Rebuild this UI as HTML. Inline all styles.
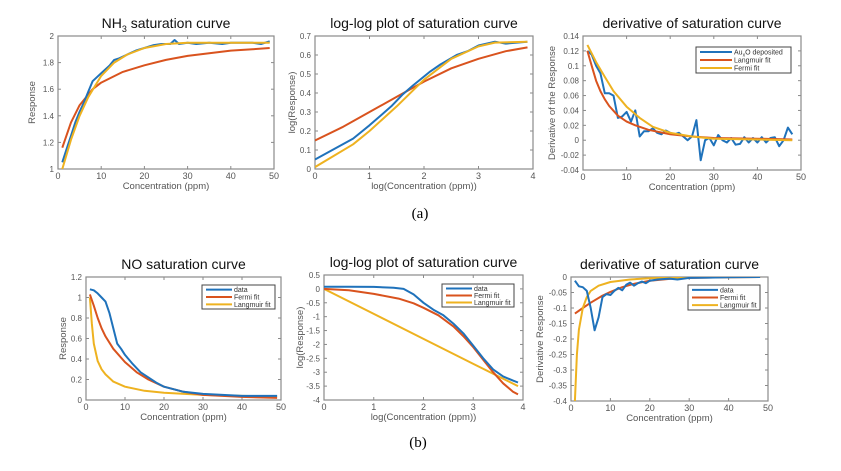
<!DOCTYPE html>
<html><head><meta charset="utf-8"><style>
body{margin:0;background:#fff;width:841px;height:466px;overflow:hidden}
svg{font-family:"Liberation Sans",sans-serif}
</style></head><body>
<svg id="fig" width="841" height="466" viewBox="0 0 841 466">
<text x="420" y="218" font-family="Liberation Serif" font-size="15" text-anchor="middle">(a)</text>
<text x="418" y="447" font-family="Liberation Serif" font-size="15" text-anchor="middle">(b)</text>
</svg>
<script>
// ---- Panel 1: NH3 saturation curve ----
const p1X=[1,2,3,4,5,6,7,8,9,10,12,13,14,16,18,20,22,24,26,27,28,30,32,35,38,40,43,45,47,49];
const p1Data=[1.05,1.15,1.25,1.35,1.43,1.5,1.58,1.66,1.69,1.72,1.78,1.82,1.83,1.86,1.89,1.91,1.93,1.94,1.94,1.97,1.94,1.95,1.94,1.95,1.94,1.95,1.95,1.95,1.94,1.96];
const p1LX=[1,3,5,8,10,15,20,25,30,35,40,45,49];
const p1Lang=[1.16,1.35,1.48,1.6,1.65,1.73,1.78,1.82,1.85,1.87,1.89,1.9,1.91];
const p1FX=[1,3,5,7,10,13,16,20,25,30,40,49];
const p1Fermi=[1.0,1.22,1.4,1.54,1.7,1.8,1.86,1.91,1.94,1.95,1.95,1.95];
const p1XTicks=[0,10,20,30,40,50];
const p1YTicks=[1,1.2,1.4,1.6,1.8,2];
// ---- Panel 2: log-log NH3 ----
const p2BX=[0,0.7,1,1.4,1.6,1.8,2.1,2.3,2.6,2.8,3,3.3,3.5,3.9];
const p2Data=[0.05,0.16,0.23,0.33,0.39,0.44,0.51,0.55,0.6,0.62,0.65,0.67,0.66,0.67];
const p2RX=[0,0.5,1,1.5,2,2.5,3,3.5,3.9];
const p2Red=[0.15,0.22,0.3,0.38,0.46,0.53,0.58,0.62,0.64];
const p2YX=[0,0.7,1,1.5,2,2.5,3,3.3,3.9];
const p2Yel=[0.01,0.13,0.2,0.33,0.47,0.58,0.645,0.665,0.67];
const p2XTicks=[0,1,2,3,4];
const p2YTicks=[0,0.1,0.2,0.3,0.4,0.5,0.6,0.7];
// ---- Panel 3: derivative NH3 ----
const p3X=[1,2,3,4,5,6,7,8,9,10,11,12,13,14,15,16,17,18,19,20,21,22,23,24,25,26,27,28,29,30,31,32,33,34,35,36,37,38,39,40,41,42,43,44,45,46,47,48];
const p3Data=[0.12,0.115,0.1,0.09,0.063,0.063,0.06,0.03,0.032,0.038,0.025,0.04,0.005,0.012,0.012,0.016,0.01,0.008,0.013,0.01,0.008,0.01,0.005,0.0,0.005,0.027,-0.027,0.0,0.003,-0.007,0.007,0.0,-0.003,0.003,-0.006,-0.005,0.004,-0.003,0.003,-0.003,0.004,-0.003,0.003,0.004,-0.008,0.0,0.017,0.008];
const p3LX=[1,2,3,4,5,6,8,10,12,15,20,25,30,40,48];
const p3Lang=[0.12,0.1,0.08,0.066,0.055,0.046,0.033,0.025,0.02,0.014,0.008,0.005,0.003,0.002,0.001];
const p3FX=[1,3,5,7,10,13,16,20,25,30,40,48];
const p3Fermi=[0.128,0.105,0.085,0.066,0.045,0.03,0.018,0.01,0.005,0.002,0.001,0.0];
const p3XTicks=[0,10,20,30,40,50];
const p3YTicks=[-0.04,-0.02,0,0.02,0.04,0.06,0.08,0.1,0.12,0.14];
// ---- Panel 4: NO saturation ----
const p4BX=[1,2,3,4,5,6,7,8,9,10,12,14,16,18,20,25,30,35,40,49];
const p4Data=[1.08,1.07,1.04,1.0,0.96,0.85,0.7,0.55,0.5,0.44,0.35,0.27,0.22,0.17,0.13,0.08,0.06,0.05,0.04,0.04];
const p4RX=[1,2,3,4,5,7,10,13,16,20,25,30,40,49];
const p4Fermi=[1.03,0.92,0.8,0.7,0.62,0.5,0.37,0.27,0.2,0.13,0.08,0.05,0.03,0.02];
const p4YX=[1,1.5,2,3,4,5,7,10,15,20,30,40,49];
const p4Lang=[1.0,0.75,0.55,0.38,0.3,0.25,0.18,0.13,0.09,0.07,0.05,0.04,0.035];
const p4XTicks=[0,10,20,30,40,50];
const p4YTicks=[0,0.2,0.4,0.6,0.8,1,1.2];
// ---- Panel 5: log-log NO ----
const p5BX=[0,0.5,1,1.4,1.6,1.8,2,2.2,2.4,2.6,2.8,3,3.2,3.4,3.6,3.8,3.9];
const p5Data=[0.08,0.08,0.07,0.04,0.0,-0.2,-0.5,-0.75,-0.95,-1.25,-1.6,-2.05,-2.5,-2.9,-3.15,-3.3,-3.37];
const p5RX=[0,0.5,1,1.5,1.8,2,2.3,2.6,2.8,3,3.2,3.4,3.6,3.8,3.9];
const p5Fermi=[0,-0.05,-0.18,-0.35,-0.52,-0.68,-0.95,-1.35,-1.7,-2.1,-2.55,-3.0,-3.4,-3.7,-3.8];
const p5YX=[0,1,2,3,3.9];
const p5Lang=[0,-0.9,-1.8,-2.7,-3.5];
const p5XTicks=[0,1,2,3,4];
const p5YTicks=[-4,-3.5,-3,-2.5,-2,-1.5,-1,-0.5,0,0.5];
// ---- Panel 6: derivative NO ----
const p6BX=[1,2,3,4,5,6,7,8,9,10,11,12,13,14,15,16,17,18,19,20,22,25,27,30,35,40,48];
const p6Data=[-0.012,-0.03,-0.033,-0.045,-0.1,-0.172,-0.13,-0.065,-0.055,-0.058,-0.045,-0.035,-0.043,-0.025,-0.018,-0.028,-0.02,-0.015,-0.02,-0.012,-0.008,-0.005,-0.008,-0.003,-0.002,-0.001,0];
const p6RX=[1,3,5,8,10,13,16,20,25,30,40,48];
const p6Fermi=[-0.118,-0.1,-0.083,-0.06,-0.048,-0.033,-0.022,-0.012,-0.006,-0.003,-0.001,0];
const p6YX=[1,1.5,2,3,4,5,7,10,15,20,30,48];
const p6Lang=[-0.4,-0.25,-0.17,-0.1,-0.065,-0.045,-0.028,-0.016,-0.008,-0.004,-0.001,0];
const p6XTicks=[0,10,20,30,40,50];
const p6YTicks=[-0.4,-0.35,-0.3,-0.25,-0.2,-0.15,-0.1,-0.05,0];

const BLUE='#1f72bb',RED='#d9531e',YEL='#eeb220';
const NS='http://www.w3.org/2000/svg';
const svg=document.getElementById('fig');
function mk(tag,attrs,parent){const e=document.createElementNS(NS,tag);for(const k in attrs)e.setAttribute(k,attrs[k]);(parent||svg).appendChild(e);return e;}

function panel(o){
  const g=mk('g',{});
  
  
  const sx=v=>o.x0+(v-o.xmin)/(o.xmax-o.xmin)*(o.x1-o.x0);
  const sy=v=>o.y1-(v-o.ymin)/(o.ymax-o.ymin)*(o.y1-o.y0);
  mk('rect',{x:o.x0,y:o.y0,width:o.x1-o.x0,height:o.y1-o.y0,fill:'#fff',stroke:'#8a8a8a','stroke-width':1.2},g);
  o.xt.forEach(t=>{const x=sx(t);
    mk('line',{x1:x,x2:x,y1:o.y1,y2:o.y1-3,stroke:'#8a8a8a'},g);
    mk('line',{x1:x,x2:x,y1:o.y0,y2:o.y0+3,stroke:'#8a8a8a'},g);
    const tx=mk('text',{x:x,y:o.y1+10,'font-size':9,fill:'#555','text-anchor':'middle'},g);tx.textContent=t;
    
    });
  o.yt.forEach(t=>{const y=sy(t);
    mk('line',{x1:o.x0,x2:o.x0+3,y1:y,y2:y,stroke:'#8a8a8a'},g);
    mk('line',{x1:o.x1,x2:o.x1-3,y1:y,y2:y,stroke:'#8a8a8a'},g);
    const tx=mk('text',{x:o.x0-4,y:y+3,'font-size':8,fill:'#555','text-anchor':'end'},g);tx.textContent=t;
    
    });
  const cp=mk('clipPath',{id:'c'+o.name},g);
  mk('rect',{x:o.x0,y:o.y0,width:o.x1-o.x0,height:o.y1-o.y0},cp);
  o.series.forEach(s=>{
    const d=s.x.map((v,i)=>(i?'L':'M')+sx(v).toFixed(1)+','+sy(s.y[i]).toFixed(1)).join('');
    const p=mk('path',{d:d,fill:'none',stroke:s.c,'stroke-width':2,'stroke-linejoin':'round','clip-path':'url(#c'+o.name+')'},g);
    
    
  });
  const tt=mk('text',{x:(o.x0+o.x1)/2,y:o.y0-8,'font-size':14,fill:'#111','text-anchor':'middle'},g);
  tt.innerHTML=o.title;
  
  
  const xl=mk('text',{x:(o.x0+o.x1)/2,y:o.y1+20,'font-size':9.5,fill:'#555','text-anchor':'middle'},g);
  xl.textContent=o.xl;
  
  
  const yx=o.ylx, yy=(o.y0+o.y1)/2;
  const yl=mk('text',{x:yx,y:yy,'font-size':9.5,fill:'#555','text-anchor':'middle',transform:`rotate(-90 ${yx} ${yy})`},g);
  yl.textContent=o.yl;
  
  
  if(o.leg){const L=o.leg;
    const lg=mk('g',{},g);
    
    
    mk('rect',{x:L.x,y:L.y,width:L.w,height:L.h,fill:'#fff',stroke:'#444','stroke-width':1},lg);
    const step=(L.h-2)/L.items.length;
    L.items.forEach((it,i)=>{const y=L.y+1+step*(i+0.5);
      mk('line',{x1:L.x+4,x2:L.x+L.line,y1:y,y2:y,stroke:it[1],'stroke-width':2},lg);
      const t=mk('text',{x:L.x+L.line+2,y:y+2.5,'font-size':7,fill:'#333'},lg);t.innerHTML=it[0];
      
      });
  }
}

panel({name:'nh3-saturation-chart',x0:58,x1:274,y0:36,y1:169,xmin:0,xmax:50,ymin:1,ymax:2,xt:p1XTicks,yt:p1YTicks,
 title:'NH<tspan font-size="9" dy="4">3</tspan><tspan dy="-4"> saturation curve</tspan>',xl:'Concentration (ppm)',yl:'Response',ylx:35,
 series:[{x:p1LX,y:p1Lang,c:RED,n:'langmuir-fit-line'},{x:p1X,y:p1Data,c:BLUE,n:'data-line'},{x:p1FX,y:p1Fermi,c:YEL,n:'fermi-fit-line'}]});
panel({name:'nh3-loglog-chart',x0:315,x1:533,y0:36,y1:169,xmin:0,xmax:4,ymin:0,ymax:0.7,xt:p2XTicks,yt:p2YTicks,
 title:'log-log plot of saturation curve',xl:'log(Concentration (ppm))',yl:'log(Response)',ylx:295,
 series:[{x:p2RX,y:p2Red,c:RED,n:'langmuir-fit-line'},{x:p2BX,y:p2Data,c:BLUE,n:'data-line'},{x:p2YX,y:p2Yel,c:YEL,n:'fermi-fit-line'}]});
panel({name:'nh3-derivative-chart',x0:583,x1:801,y0:36,y1:170,xmin:0,xmax:50,ymin:-0.04,ymax:0.14,xt:p3XTicks,yt:p3YTicks,
 title:'derivative of saturation curve',xl:'Concentration (ppm)',yl:'Derivative of the Response',ylx:555,
 series:[{x:p3X,y:p3Data,c:BLUE,n:'data-line'},{x:p3LX,y:p3Lang,c:RED,n:'langmuir-fit-line'},{x:p3FX,y:p3Fermi,c:YEL,n:'fermi-fit-line'}],
 leg:{x:696,y:47,w:95,h:26,line:36,items:[['Au<tspan font-size="5" dy="2">x</tspan><tspan dy="-2">O deposited</tspan>',BLUE],['Langmuir fit',RED],['Fermi fit',YEL]]}});
panel({name:'no-saturation-chart',x0:86,x1:281,y0:277,y1:400,xmin:0,xmax:50,ymin:0,ymax:1.2,xt:p4XTicks,yt:p4YTicks,
 title:'NO saturation curve',xl:'Concentration (ppm)',yl:'Response',ylx:66,
 series:[{x:p4YX,y:p4Lang,c:YEL,n:'langmuir-fit-line'},{x:p4RX,y:p4Fermi,c:RED,n:'fermi-fit-line'},{x:p4BX,y:p4Data,c:BLUE,n:'data-line'}],
 leg:{x:202,y:285,w:73,h:24,line:30,items:[['data',BLUE],['Fermi fit',RED],['Langmuir fit',YEL]]}});
panel({name:'no-loglog-chart',x0:324,x1:523,y0:275,y1:400,xmin:0,xmax:4,ymin:-4,ymax:0.5,xt:p5XTicks,yt:p5YTicks,
 title:'log-log plot of saturation curve',xl:'log(Concentration (ppm))',yl:'log(Response)',ylx:303,
 series:[{x:p5YX,y:p5Lang,c:YEL,n:'langmuir-fit-line'},{x:p5RX,y:p5Fermi,c:RED,n:'fermi-fit-line'},{x:p5BX,y:p5Data,c:BLUE,n:'data-line'}],
 leg:{x:442,y:284,w:72,h:23,line:30,items:[['data',BLUE],['Fermi fit',RED],['Langmuir fit',YEL]]}});
panel({name:'no-derivative-chart',x0:571,x1:768,y0:277,y1:401,xmin:0,xmax:50,ymin:-0.4,ymax:0,xt:p6XTicks,yt:p6YTicks,
 title:'derivative of saturation curve',xl:'Concentration (ppm)',yl:'Derivative Response',ylx:543,
 series:[{x:p6RX,y:p6Fermi,c:RED,n:'fermi-fit-line'},{x:p6YX,y:p6Lang,c:YEL,n:'langmuir-fit-line'},{x:p6BX,y:p6Data,c:BLUE,n:'data-line'}],
 leg:{x:688,y:285,w:72,h:25,line:30,items:[['data',BLUE],['Fermi fit',RED],['Langmuir fit',YEL]]}});
</script>
</body></html>
